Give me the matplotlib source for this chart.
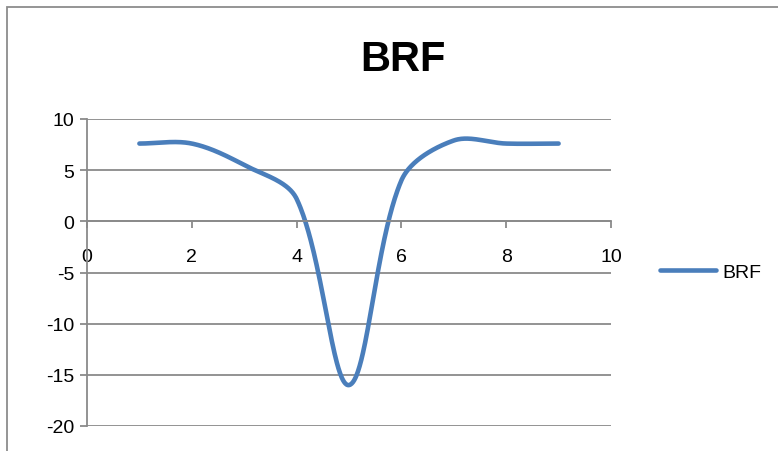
import numpy as np
import matplotlib
matplotlib.use("Agg")
import matplotlib.pyplot as plt
from matplotlib.patches import Rectangle

# Series data
x_vals = [1, 2, 3, 4, 5, 6, 7, 8, 9]
brf_vals = [7.6, 7.6, 5.5, 2.2, -16.0, 4.0, 7.9, 7.6, 7.6]
series_name = "BRF"
chart_title = "BRF"
x_ticks = [0, 2, 4, 6, 8, 10]
y_ticks = [-20, -15, -10, -5, 0, 5, 10]

plt.rcParams["font.family"] = ["Liberation Sans", "DejaVu Sans"]


def smooth_curve(ax, xs, ys, n=80):
    """Piecewise cubic Bezier through the points, with handles scaled by
    neighbouring segment lengths in screen space (spreadsheet-style smoothing)."""
    pts = ax.transData.transform(np.column_stack([xs, ys]).astype(float))
    m = len(pts)
    out = []
    for i in range(m - 1):
        p0 = pts[i - 1] if i > 0 else pts[i]
        p1 = pts[i]
        p2 = pts[i + 1]
        p3 = pts[i + 2] if i + 2 < m else pts[i + 1]
        d01 = np.linalg.norm(p1 - p0)
        d12 = np.linalg.norm(p2 - p1)
        d23 = np.linalg.norm(p3 - p2)
        f1 = d12 / (d01 + d12) / 3.0 if d01 + d12 > 0 else 0
        f2 = d12 / (d12 + d23) / 3.0 if d12 + d23 > 0 else 0
        c1 = p1 + (p2 - p0) * f1
        c2 = p2 - (p3 - p1) * f2
        t = np.linspace(0, 1, n)[:, None]
        seg = ((1 - t) ** 3) * p1 + 3 * ((1 - t) ** 2) * t * c1 + 3 * (1 - t) * t ** 2 * c2 + t ** 3 * p2
        out.append(seg if i == 0 else seg[1:])
    c = ax.transData.inverted().transform(np.vstack(out))
    return c[:, 0], c[:, 1]


W, H = 778, 452
fig = plt.figure(figsize=(W / 100, H / 100), dpi=100)

# Chart frame
fig.patches.append(Rectangle((7 / W, -0.1), 1.2, 1 - 8 / H + 0.1, transform=fig.transFigure,
                             fill=False, edgecolor="#8c8c8c", linewidth=1.3))

grid_c = "#8a8a8a"
ax = fig.add_axes([87 / W, 1 - 427 / H, 524 / W, 307 / H])
ax.set_xlim(0, 10)
ax.set_ylim(-20, 10)
ax.set_xticks(x_ticks)
ax.set_yticks(y_ticks)
ax.set_xticklabels([str(v) for v in x_ticks])
ax.set_yticklabels([str(v) for v in y_ticks])

for s in ["top", "right"]:
    ax.spines[s].set_visible(False)
ax.spines["left"].set_color(grid_c)
ax.spines["left"].set_linewidth(1.3)
ax.spines["bottom"].set_position(("data", 0))
ax.spines["bottom"].set_color(grid_c)
ax.spines["bottom"].set_linewidth(1.3)

ax.yaxis.grid(True, color=grid_c, linewidth=1.3)
ax.set_axisbelow(True)
ax.tick_params(axis="y", direction="out", length=5, width=1.3, color=grid_c,
               labelsize=14, pad=4, labelcolor="black")
ax.tick_params(axis="x", direction="out", length=5, width=1.3, color=grid_c,
               labelsize=14, pad=14, labelcolor="black")

sx, sy = smooth_curve(ax, x_vals, brf_vals)
line, = ax.plot(sx, sy, color="#4a7ebb", linewidth=3.3, solid_capstyle="round",
                label=series_name, clip_on=False)

fig.text(403 / W, 1 - 60 / H, chart_title, ha="center", va="center",
         fontsize=30, fontweight="bold")

leg = fig.legend(handles=[line], loc="center left", bbox_to_anchor=(660 / W, 1 - 273 / H),
                 frameon=False, fontsize=14, handlelength=2.9, handletextpad=0.3,
                 borderaxespad=0, borderpad=0)

fig.savefig("out.png", dpi=100)
